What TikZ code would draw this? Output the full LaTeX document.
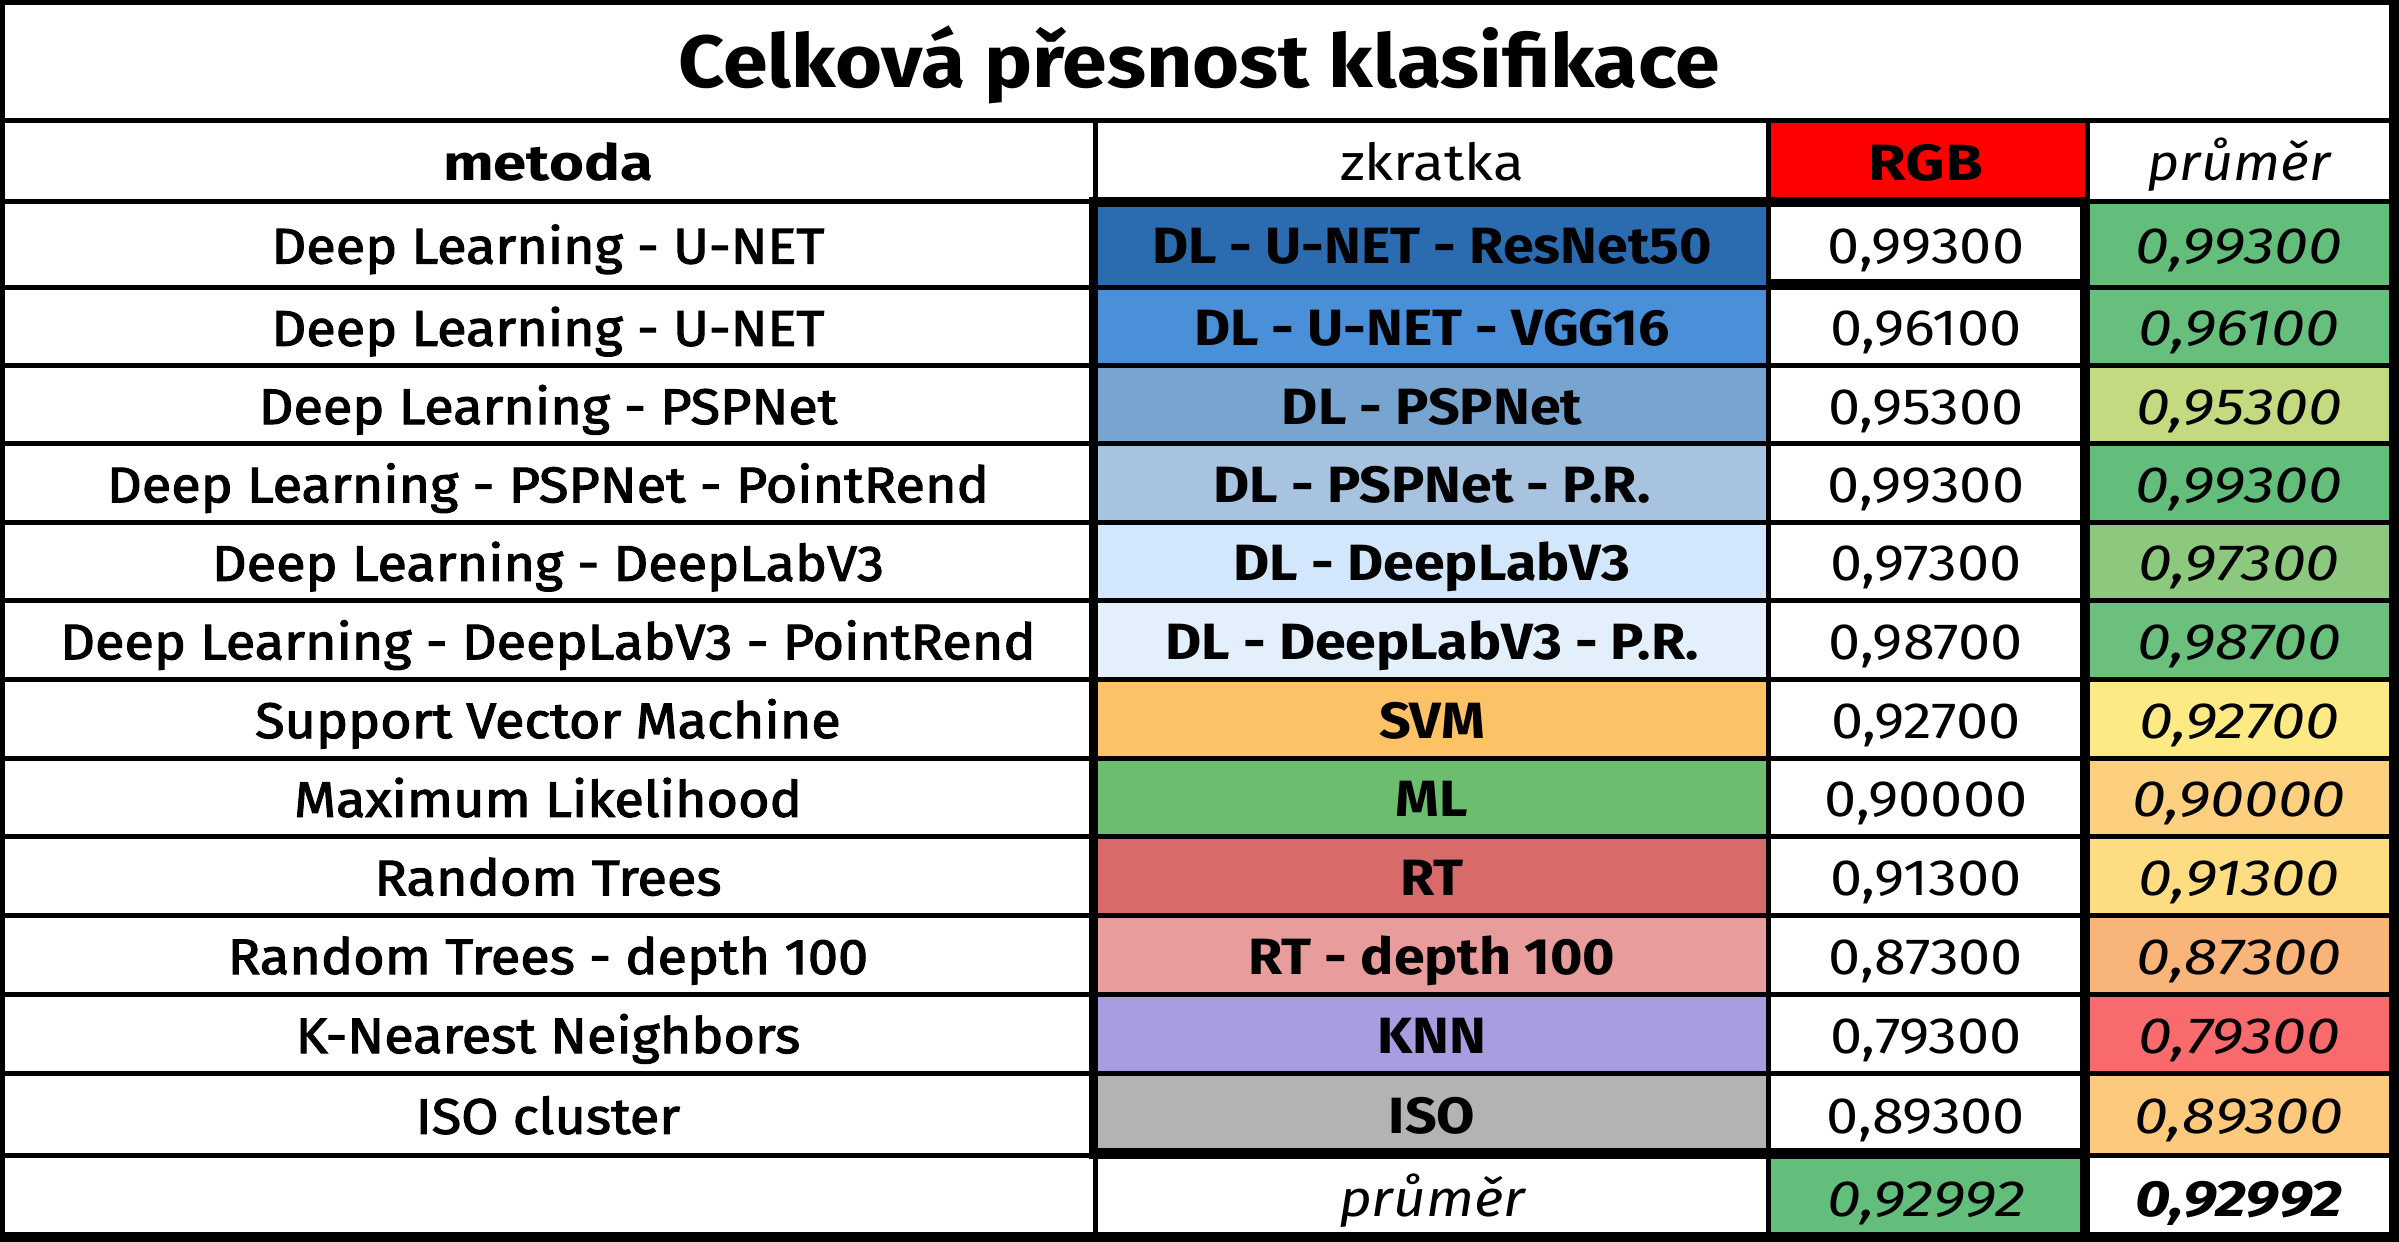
\documentclass[tikz,border=0pt]{standalone}
\usepackage{fontspec}
\setmainfont{Fira Sans}[FakeStretch=1.09]
\newfontfamily\medfont{Fira Sans}[FakeStretch=1.08, FakeBold=2.2]
\newfontfamily\wideB{Fira Sans}[FakeStretch=1.2]
\newfontfamily\wideC{Fira Sans}[FakeStretch=1.13]
\newfontfamily\wideD{Fira Sans}[FakeStretch=1.11]
\definecolor{cz1}{HTML}{2B6CB0}
\definecolor{cz2}{HTML}{4A90D9}
\definecolor{cz3}{HTML}{77A5CF}
\definecolor{cz4}{HTML}{A7C3E0}
\definecolor{cz5}{HTML}{D2E7FB}
\definecolor{cz6}{HTML}{E3F0FC}
\definecolor{cz7}{HTML}{FEC266}
\definecolor{cz8}{HTML}{6CBE6E}
\definecolor{cz9}{HTML}{D86A6A}
\definecolor{cz10}{HTML}{E89C9C}
\definecolor{cz11}{HTML}{A89DE0}
\definecolor{cz12}{HTML}{B3B3B3}
\definecolor{cp1}{HTML}{63BE7B}
\definecolor{cp2}{HTML}{66BF7C}
\definecolor{cp3}{HTML}{C4DA80}
\definecolor{cp4}{HTML}{63BE7B}
\definecolor{cp5}{HTML}{8CC97E}
\definecolor{cp6}{HTML}{6AC07C}
\definecolor{cp7}{HTML}{FEEA85}
\definecolor{cp8}{HTML}{FDD07F}
\definecolor{cp9}{HTML}{FEDD82}
\definecolor{cp10}{HTML}{F9B479}
\definecolor{cp11}{HTML}{F86A6C}
\definecolor{cp12}{HTML}{FDCA7D}
\definecolor{meangreen}{HTML}{63BE7B}
\definecolor{hdrred}{HTML}{FF0000}
\begin{document}
\begin{tikzpicture}[x=1pt,y=-1pt,
  txt/.style={inner sep=0pt, text height=35pt, text depth=0pt, anchor=center, font=\fontsize{51}{60}\selectfont},
  ttl/.style={inner sep=0pt, text height=51pt, text depth=0pt, anchor=center, font=\bfseries\fontsize{74}{86}\selectfont},
  rule/.style={fill=black}]
\useasboundingbox (0,0) rectangle (2399,1242);
\fill[white] (0,0) rectangle (2399,1242);
% header red cell
\fill[hdrred] (1771,120) rectangle (2085,201);
% data rows
\foreach \i/\t/\b/\m/\z/\v in {
 1/201/287/{Deep Learning - U-NET}/{DL - U-NET - ResNet50}/{0,99300},
 2/287/365.5/{Deep Learning - U-NET}/{DL - U-NET - VGG16}/{0,96100},
 3/365.5/443.5/{Deep Learning - PSPNet}/{DL - PSPNet}/{0,95300},
 4/443.5/522/{Deep Learning - PSPNet - PointRend}/{DL - PSPNet - P.R.}/{0,99300},
 5/522/600.5/{Deep Learning - DeepLabV3}/{DL - DeepLabV3}/{0,97300},
 6/600.5/679/{Deep Learning - DeepLabV3 - PointRend}/{DL - DeepLabV3 - P.R.}/{0,98700},
 7/679/758/{Support Vector Machine}/{SVM}/{0,92700},
 8/758/836.5/{Maximum Likelihood}/{ML}/{0,90000},
 9/836.5/915/{Random Trees}/{RT}/{0,91300},
 10/915/994/{Random Trees - depth 100}/{RT - depth 100}/{0,87300},
 11/994/1073/{K-Nearest Neighbors}/{KNN}/{0,79300},
 12/1073/1155.5/{ISO cluster}/{ISO}/{0,89300}} {
  \fill[cz\i] (1098,\t) rectangle (1766,\b);
  \fill[cp\i] (2089,\t) rectangle (2389,\b);
  \node[txt, font=\medfont\fontsize{50}{60}\selectfont] (m\i) at (548,{(\t+\b)/2+2}) {\m};
  \node[txt, font=\bfseries\fontsize{51}{60}\selectfont] (z\i) at (1432,{(\t+\b)/2+2}) {\z};
  \node[txt, font=\wideC\fontsize{51}{60}\selectfont] (v\i) at (1926,{(\t+\b)/2+2}) {\v};
  \node[txt, font=\wideB\itshape\fontsize{51}{60}\selectfont] (p\i) at (2239,{(\t+\b)/2+2}) {\v};
}
\fill[meangreen] (1771,1155.5) rectangle (2080,1237);
% horizontal thin rules
\foreach \y in {201,287,365.5,443.5,522,600.5,679,758,836.5,915,994,1073,1155.5}
  \fill[rule] (0,{\y-2.5}) rectangle (2399,{\y+2.5});
\fill[rule] (0,118) rectangle (2399,122.5);
% thick horizontal segments
\fill[rule] (1089,197) rectangle (2089,206.5);
\fill[rule] (1766,279) rectangle (2089,289.5);
\fill[rule] (1089,1148) rectangle (2089,1158.5);
% vertical rules
\fill[rule] (1093,120) rectangle (1098,1237);
\fill[rule] (1089,197) rectangle (1098,1158.5);
\fill[rule] (1766,120) rectangle (1771,1237);
\fill[rule] (2085,120) rectangle (2089.5,1237);
\fill[rule] (2080,197) rectangle (2089.5,1237);
% outer frame
\fill[rule] (0,0) rectangle (2399,5);
\fill[rule] (0,0) rectangle (5,1242);
\fill[rule] (2389,0) rectangle (2399,1242);
\fill[rule] (0,1232) rectangle (2399,1242);
% title and header texts
\node[ttl] (title) at (1199,62) {Celková přesnost klasifikace};
\node[txt, font=\wideB\bfseries\fontsize{50}{58}\selectfont] (hmetoda) at (548,163) {metoda};
\node[txt, font=\wideD\fontsize{51}{60}\selectfont] (hzkratka) at (1432,163) {zkratka};
\node[txt, font=\wideB\bfseries\fontsize{51}{60}\selectfont] (hrgb) at (1926,163) {RGB};
\node[txt, font=\itshape\fontsize{51}{60}\selectfont] (hprumer) at (2239,163) {průměr};
% bottom row
\node[txt, font=\wideD\itshape\fontsize{51}{60}\selectfont] (bprumer) at (1432,1199) {průměr};
\node[txt, font=\wideB\itshape\fontsize{51}{60}\selectfont] (bmean) at (1926,1199) {0,92992};
\node[txt, font=\wideB\bfseries\itshape\fontsize{51}{60}\selectfont] (bmeanp) at (2239,1199) {0,92992};
\end{tikzpicture}
\end{document}
